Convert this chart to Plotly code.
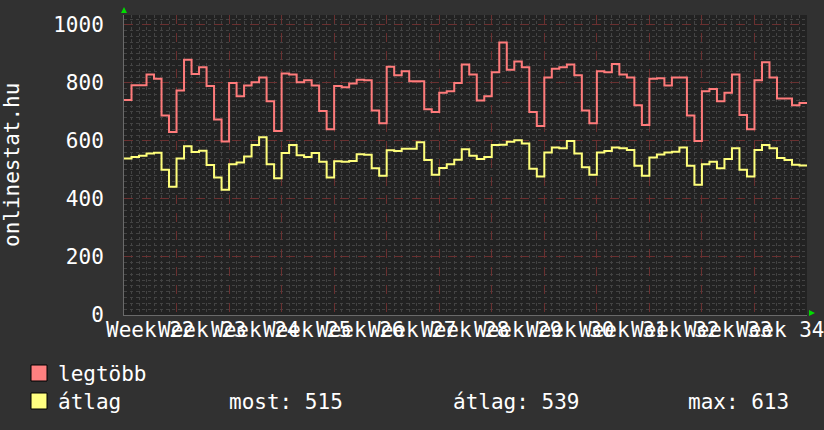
import plotly.graph_objects as go

# ---- data (daily values, 13 weeks) ----
legtobb = [741, 792, 792, 829, 814, 688, 631,
           774, 880, 831, 854, 789, 674, 598,
           800, 754, 791, 802, 819, 737, 634,
           832, 829, 802, 809, 791, 703, 640,
           789, 785, 798, 811, 809, 705, 661,
           856, 826, 840, 806, 806, 709, 700,
           766, 771, 800, 863, 829, 739, 754,
           837, 939, 845, 874, 854, 700, 651,
           819, 849, 854, 863, 826, 705, 661,
           840, 837, 865, 829, 819, 723, 655,
           814, 816, 791, 819, 819, 688, 600,
           771, 779, 737, 766, 829, 689, 640,
           809, 871, 819, 746, 746, 723, 731]
atlag = [539, 545, 549, 557, 559, 501, 442,
         539, 582, 562, 566, 517, 474, 432,
         520, 526, 546, 586, 613, 520, 471,
         558, 586, 551, 545, 558, 528, 474,
         530, 528, 531, 554, 552, 506, 480,
         568, 565, 573, 573, 595, 534, 483,
         507, 520, 535, 571, 549, 538, 545,
         586, 587, 597, 602, 591, 504, 477,
         560, 577, 575, 600, 557, 509, 483,
         560, 565, 577, 575, 569, 514, 480,
         543, 553, 560, 563, 577, 514, 449,
         520, 528, 506, 538, 575, 501, 477,
         569, 586, 575, 541, 534, 518, 515]
week_numbers = list(range(22, 35))
week_labels = ["Week %d" % w for w in week_numbers]
y_ticks = [0, 200, 400, 600, 800, 1000]
stat_most = 515
stat_atlag = 539
stat_max = 613

FONT = "DejaVu Sans Mono"
RED = "#ff7b7b"
YEL = "#ffff7b"

n_days = len(legtobb)
xs = list(range(n_days + 1))

fig = go.Figure()
fig.add_trace(go.Scatter(x=xs, y=legtobb + [legtobb[-1]], mode="lines",
                         line=dict(color=RED, width=2, shape="hv"),
                         showlegend=False, hoverinfo="skip"))
fig.add_trace(go.Scatter(x=xs, y=atlag + [atlag[-1]], mode="lines",
                         line=dict(color=YEL, width=2, shape="hv"),
                         showlegend=False, hoverinfo="skip"))

W, H = 824, 430
L, R, T, B = 124, 17, 15, 115
pw, ph = W - L - R, H - T - B

def px(x):
    return (x - L) / pw

def py(y):
    return (H - B - y) / ph

week_days = 7
fig.update_layout(
    width=W, height=H,
    margin=dict(l=L, r=R, t=T, b=B, autoexpand=False),
    paper_bgcolor="#313131",
    plot_bgcolor="#222222",
    font=dict(family=FONT, color="white", size=21),
    xaxis=dict(range=[0, n_days], tickmode="linear", tick0=0, dtick=week_days,
               showticklabels=False, showgrid=True, gridcolor="#6a3030",
               griddash="dash", gridwidth=1, zeroline=False,
               showline=True, linecolor="#6a6a6a", linewidth=1,
               automargin=False,
               minor=dict(tickmode="linear", tick0=0, dtick=1, showgrid=True,
                          gridcolor="#434343", griddash="dot", gridwidth=1),
               fixedrange=True),
    yaxis=dict(range=[0, 1034], tickmode="array", tickvals=y_ticks,
               showgrid=True, gridcolor="#6a3030", griddash="dash",
               zeroline=False, showline=True, linecolor="#6a6a6a",
               ticks="", ticklabelstandoff=15, automargin=False,
               tickfont=dict(family=FONT, size=21, color="white"),
               minor=dict(tickmode="linear", tick0=0, dtick=20, showgrid=True,
                          gridcolor="#434343", griddash="dot", gridwidth=1),
               fixedrange=True),
)

shapes = []
# green arrows at axis ends
shapes.append(dict(type="path", xref="paper", yref="paper",
                   path="M %f %f L %f %f L %f %f Z" % (px(121), py(13), px(127), py(13), px(124), py(7)),
                   fillcolor="#00dd00", line=dict(width=0)))
shapes.append(dict(type="path", xref="paper", yref="paper",
                   path="M %f %f L %f %f L %f %f Z" % (px(809), py(310), px(809), py(316), px(815), py(313)),
                   fillcolor="#00dd00", line=dict(width=0)))
# legend squares
for top, col in [(365, "#ff8080"), (393, "#ffff80")]:
    shapes.append(dict(type="rect", xref="paper", yref="paper",
                       x0=px(31), x1=px(47), y0=py(top + 16), y1=py(top),
                       fillcolor=col, line=dict(color="black", width=1)))
fig.update_layout(shapes=shapes)

ann = []
def txt(x, y, s, **kw):
    d = dict(x=px(x), y=py(y), xref="paper", yref="paper", text=s,
             showarrow=False, xanchor="left", yanchor="middle",
             font=dict(family=FONT, size=21, color="white"))
    d.update(kw)
    ann.append(d)

# week labels, centred in each week (overlapping, as in the original)
for i, lab in enumerate(week_labels):
    ann.append(dict(x=week_days * (i + 0.5), y=py(330), xref="x", yref="paper",
                    text=lab, showarrow=False, xanchor="center", yanchor="middle",
                    font=dict(family=FONT, size=21, color="white")))

txt(56, 374, "legtöbb")
txt(56, 402, "átlag")
txt(227, 402, "most: %d" % stat_most)
txt(451, 402, "átlag: %d" % stat_atlag)
txt(686, 402, "max: %d" % stat_max)
txt(12, 165, "onlinestat.hu", xanchor="center", textangle=-90)
fig.update_layout(annotations=ann)

fig.write_html("out.html", config={"displayModeBar": False},
               post_script="document.body.style.margin='0';document.body.style.overflow='hidden';document.body.style.background='#313131';")
